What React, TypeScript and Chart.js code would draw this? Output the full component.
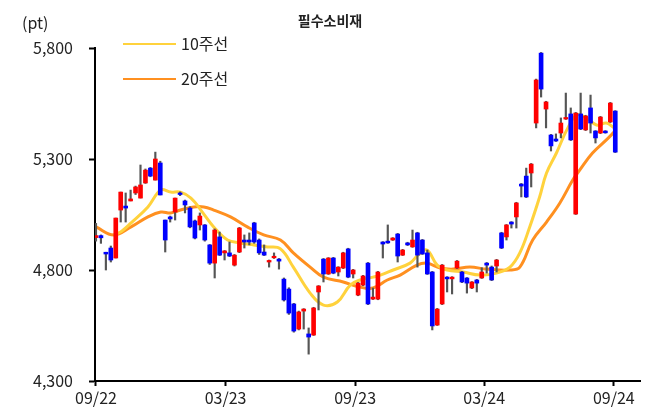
import React, { useEffect, useRef } from 'react';
import { Chart, registerables } from 'chart.js';

Chart.register(...registerables);

// Weekly candles (index 0 = first week of 09/22)
const opens = [
  4946, 4955, 4880, 4899, 4854, 5070, 5088, 5111, 5147, 5124,
  5192, 5259, 5205, 5282, 5025, 5039, 5061, 5147, 5111, 5079,
  5021, 5003, 5003, 4913, 4831, 4949, 4877, 4877, 4822, 4881,
  4935, 4935, 5012, 4935, 4881, 4836, 4855, 4849, 4759, 4714,
  4647, 4534, 4615, 4512, 4507, 4701, 4849, 4782, 4854, 4791,
  4809, 4895, 4782, 4687, 4732, 4831, 4669, 4669, 4926, 4930,
  4935, 4962, 4867, 4922, 4904, 4967, 4935, 4877, 4791, 4552,
  4647, 4768, 4760, 4809, 4791, 4764, 4719, 4755, 4764, 4831,
  4813, 4818, 4967, 4949, 5016, 5039, 5187, 5223, 5237, 5462,
  5777, 5525, 5408, 5390, 5417, 5480, 5503, 5052, 5503, 5431,
  5530, 5426, 5417, 5426, 5467, 5516,
];
const highs = [
  5010, 4958, 4880, 4908, 5034, 5151, 5147, 5160, 5178, 5273,
  5255, 5262, 5331, 5290, 5025, 5043, 5124, 5152, 5115, 5085,
  5025, 5057, 5005, 4915, 4985, 4971, 4888, 4926, 4870, 4992,
  4958, 4967, 5015, 4940, 4913, 4845, 4877, 4852, 4764, 4720,
  4650, 4615, 4626, 4539, 4632, 4730, 4852, 4856, 4857, 4815,
  4880, 4898, 4803, 4744, 4776, 4834, 4719, 4794, 4928, 5003,
  4946, 4965, 4893, 4925, 4980, 4970, 4938, 4890, 4794, 4627,
  4825, 4770, 4770, 4843, 4794, 4766, 4748, 4758, 4810, 4834,
  4818, 4848, 4970, 5005, 5018, 5105, 5190, 5259, 5280, 5660,
  5780, 5560, 5411, 5413, 5485, 5597, 5530, 5510, 5597, 5497,
  5588, 5428, 5492, 5428, 5555, 5518,
];
const lows = [
  4930, 4920, 4800, 4836, 4854, 5016, 5016, 5111, 5140, 5124,
  5190, 5220, 5205, 5138, 4881, 5016, 5025, 5135, 5057, 4990,
  4940, 4980, 4930, 4825, 4764, 4865, 4845, 4860, 4818, 4878,
  4899, 4913, 4920, 4870, 4865, 4813, 4852, 4804, 4660, 4600,
  4520, 4530, 4534, 4421, 4505, 4620, 4746, 4780, 4783, 4773,
  4806, 4765, 4764, 4684, 4729, 4644, 4667, 4666, 4854, 4920,
  4933, 4836, 4865, 4910, 4902, 4813, 4870, 4780, 4530, 4550,
  4644, 4701, 4692, 4806, 4743, 4696, 4716, 4701, 4762, 4786,
  4752, 4791, 4896, 4935, 4989, 4989, 5129, 5126, 5174, 5440,
  5579, 5440, 5336, 5379, 5395, 5478, 5383, 5050, 5432, 5428,
  5417, 5372, 5414, 5416, 5464, 5329,
];
const closes = [
  4955, 4945, 4872, 4845, 5034, 5151, 5079, 5120, 5174, 5183,
  5250, 5223, 5300, 5138, 4935, 5030, 5124, 5140, 5093, 4994,
  4944, 5043, 4935, 4831, 4980, 4867, 4886, 4863, 4867, 4989,
  4926, 4926, 4926, 4877, 4867, 4843, 4862, 4840, 4665, 4606,
  4525, 4611, 4624, 4498, 4629, 4728, 4782, 4854, 4786, 4813,
  4877, 4768, 4800, 4741, 4773, 4647, 4678, 4791, 4917, 4922,
  4944, 4863, 4890, 4913, 4935, 4867, 4872, 4782, 4548, 4624,
  4822, 4760, 4768, 4840, 4746, 4741, 4746, 4741, 4791, 4822,
  4755, 4845, 4899, 5003, 5007, 5102, 5178, 5129, 5277, 5656,
  5615, 5557, 5359, 5381, 5462, 5487, 5386, 5507, 5435, 5494,
  5462, 5395, 5489, 5418, 5552, 5331,
];

// Moving averages (x = week index)
const ma10X = [3.6, 5.2, 7.1, 10.5, 13.1, 15.1, 17.1, 19.2, 21.2, 23.8, 26.6, 29.2, 31.9, 34.7, 37.3, 39.9, 43.3, 46.0, 48.8, 51.4, 53.4, 56.0, 57.5, 60.1, 63.5, 65.1, 66.9, 69.0, 71.0, 74.2, 77.6, 81.0, 83.7, 85.7, 87.7, 89.7, 91.1, 93.1, 95.2, 97.2, 99.2, 101.2, 103.2, 104.8];
const ma10Y = [4958, 4975, 5012, 5084, 5160, 5151, 5151, 5124, 5070, 4994, 4935, 4922, 4913, 4904, 4895, 4813, 4696, 4642, 4656, 4732, 4755, 4768, 4777, 4800, 4831, 4867, 4890, 4822, 4800, 4791, 4777, 4786, 4813, 4877, 4994, 5129, 5237, 5327, 5431, 5498, 5485, 5453, 5462, 5440];
const ma20X = [0, 3.6, 7.1, 10.5, 13.1, 15.1, 17.1, 19.8, 21.8, 23.8, 27.2, 30.6, 33.9, 37.3, 39.9, 43.3, 46.0, 50.0, 53.4, 56.0, 58.9, 61.5, 64.9, 66.9, 69.6, 72.2, 75.6, 79.0, 83.7, 85.7, 88.3, 91.1, 93.8, 96.4, 97.8, 100.4, 103.2, 104.8];
const ma20Y = [4994, 4958, 4994, 5039, 5061, 5057, 5070, 5084, 5084, 5070, 5039, 4994, 4958, 4935, 4877, 4813, 4768, 4746, 4723, 4719, 4755, 4777, 4822, 4831, 4809, 4804, 4813, 4804, 4800, 4813, 4935, 5016, 5102, 5205, 5250, 5327, 5386, 5422];

const tickIdx = [0, 26.2, 52.4, 78.5, 104.7];
const tickLabels = ['09/22', '03/23', '09/23', '03/24', '09/24'];
const yTicks = [4300, 4800, 5300, 5800];

const titleText = '필수소비재';
const unitText = '(pt)';
const legendLabels = ['10주선', '20주선'];

const UP = '#FF0000';
const DOWN = '#0000FF';
const MA10_COLOR = '#FFD23C';
const MA20_COLOR = '#FF9020';
const FONT = '"Noto Sans CJK KR", "Noto Sans", sans-serif';

const overlay = {
  id: 'overlay',
  afterDraw(chart: any) {
    const { ctx } = chart;
    ctx.save();
    ctx.fillStyle = '#222';
    ctx.textBaseline = 'middle';
    ctx.textAlign = 'left';
    ctx.font = `16px ${FONT}`;
    ctx.fillText(unitText, 22, 23);
    ctx.font = `bold 14px ${FONT}`;
    ctx.textAlign = 'center';
    ctx.fillText(titleText, 330, 21);
    ctx.textAlign = 'left';
    ctx.font = `16px ${FONT}`;
    const colors = [MA10_COLOR, MA20_COLOR];
    legendLabels.forEach((lab, k) => {
      const y = 44 + k * 35;
      ctx.strokeStyle = colors[k];
      ctx.lineWidth = 2;
      ctx.beginPath();
      ctx.moveTo(123, y);
      ctx.lineTo(176, y);
      ctx.stroke();
      ctx.fillText(lab, 181, y);
    });
    ctx.restore();
  },
};

export default function App() {
  const ref = useRef<HTMLCanvasElement>(null);
  useEffect(() => {
    const canvas = ref.current;
    if (!canvas) return;
    const wickData = highs.map((h, i) => ({ x: i, y: [lows[i], h] }));
    const bodyData = opens.map((o, i) => ({ x: i, y: [Math.min(o, closes[i]), Math.max(o, closes[i])] }));
    const bodyColors = opens.map((o, i) => (closes[i] >= o ? UP : DOWN));
    const chart = new Chart(canvas, {
      type: 'bar',
      data: {
        datasets: [
          {
            type: 'line',
            label: legendLabels[0],
            data: ma10X.map((x, i) => ({ x, y: ma10Y[i] })),
            borderColor: MA10_COLOR,
            borderWidth: 3,
            pointRadius: 0,
            tension: 0.4,
            order: 3,
          } as any,
          {
            type: 'line',
            label: legendLabels[1],
            data: ma20X.map((x, i) => ({ x, y: ma20Y[i] })),
            borderColor: MA20_COLOR,
            borderWidth: 3,
            pointRadius: 0,
            tension: 0.4,
            order: 3,
          } as any,
          {
            type: 'bar',
            data: wickData,
            backgroundColor: '#555',
            barThickness: 1.5,
            grouped: false,
            order: 2,
          } as any,
          {
            type: 'bar',
            data: bodyData,
            backgroundColor: bodyColors,
            barThickness: 4,
            grouped: false,
            order: 1,
          } as any,
        ],
      },
      options: {
        animation: false,
        responsive: false,
        maintainAspectRatio: false,
        devicePixelRatio: 1,
        layout: { padding: { left: 0, right: 9, top: 48, bottom: 0 } },
        plugins: { legend: { display: false }, tooltip: { enabled: false }, title: { display: false } },
        scales: {
          x: {
            type: 'linear',
            min: -0.2,
            max: 110,
            offset: false,
            border: { color: '#000', width: 2 },
            grid: { drawOnChartArea: false, offset: false, tickLength: 5, color: '#000', tickColor: '#000', tickWidth: 2 },
            ticks: {
              color: '#222',
              font: { family: FONT, size: 16 },
              padding: 2,
              maxRotation: 0,
              autoSkip: false,
              callback: (v: any) => {
                const k = tickIdx.indexOf(Number(v));
                return k >= 0 ? tickLabels[k] : '';
              },
            },
            afterBuildTicks: (scale: any) => {
              scale.ticks = tickIdx.map((v) => ({ value: v }));
            },
            afterFit: (scale: any) => {
              scale.height = 30;
            },
          },
          y: {
            type: 'linear',
            min: 4300,
            max: 5800,
            border: { color: '#000', width: 2 },
            grid: { drawOnChartArea: false, tickLength: 6, color: '#000', tickColor: '#000', tickWidth: 2 },
            ticks: {
              color: '#222',
              font: { family: FONT, size: 16 },
              padding: 16,
              callback: (v: any) => Number(v).toLocaleString('en-US'),
            },
            afterBuildTicks: (scale: any) => {
              scale.ticks = yTicks.map((v) => ({ value: v }));
            },
            afterFit: (scale: any) => {
              scale.width = 95;
            },
          },
        },
      },
      plugins: [overlay],
    });
    return () => chart.destroy();
  }, []);
  return (
    <div style={{ position: 'absolute', left: 0, top: 0, width: 649, height: 411, background: '#fff' }}>
      <canvas ref={ref} width={649} height={411} style={{ display: 'block', width: 649, height: 411 }} />
    </div>
  );
}
